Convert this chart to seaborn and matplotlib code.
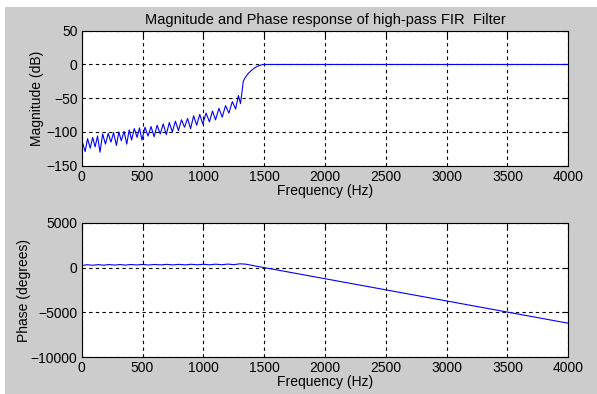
import numpy as np
import pandas as pd
import seaborn as sns
import matplotlib.pyplot as plt
from matplotlib.patches import Rectangle

# magnitude response (Hz, dB)
mag_freq = [0, 28, 48, 70, 90, 110, 130, 150, 172, 195, 218, 240, 262, 285, 305,
            325, 348, 370, 390, 410, 432, 455, 475, 495, 520, 545, 570, 595, 620,
            645, 670, 695, 720, 745, 770, 795, 820, 845, 870, 895, 920, 945, 970,
            995, 1022, 1050, 1075, 1100, 1128, 1155, 1182, 1210, 1238, 1265, 1288,
            1305, 1318, 1328, 1345, 1370, 1400, 1430, 1460, 1490, 1500, 4000]
mag_db = [-112, -129, -110, -124, -108, -122, -106, -130, -103, -118, -102, -115,
          -101, -120, -100, -113, -99, -118, -97, -112, -95, -108, -94, -112, -93,
          -106, -92, -107, -90, -103, -88, -104, -86, -100, -84, -98, -82, -93,
          -80, -95, -76, -90, -74, -88, -72, -85, -69, -82, -65, -78, -61, -72,
          -55, -66, -46, -58, -40, -25, -19, -13, -8, -4, -1.5, 0, 0, 0]

# phase response (Hz, degrees)
ph_freq = [0, 45, 90, 135, 180, 225, 270, 315, 360, 405, 450, 500, 550, 600, 650,
           700, 750, 800, 850, 900, 950, 1000, 1050, 1100, 1150, 1200, 1250, 1300,
           1350, 1400, 1450, 1500, 2000, 2500, 3000, 3500, 4000]
ph_deg = [230, 320, 260, 330, 270, 340, 280, 340, 280, 350, 290, 350, 290, 350,
          300, 360, 300, 360, 300, 370, 310, 370, 310, 380, 320, 390, 330, 420,
          380, 250, 120, 0, -1240, -2480, -3720, -4960, -6200]

mag = pd.DataFrame({"f": mag_freq, "db": mag_db})
ph = pd.DataFrame({"f": ph_freq, "deg": ph_deg})

sns.set_style("white")
plt.rcParams['font.family'] = ['Liberation Sans', 'DejaVu Sans']
plt.rcParams['font.size'] = 10
plt.rcParams['text.color'] = 'black'
plt.rcParams['axes.labelcolor'] = 'black'

fig = plt.figure(figsize=(5.97, 3.94), dpi=100)
fig.patch.set_facecolor("white")
fig.patches.append(Rectangle((5 / 597, 0), 1, 1 - 7 / 394, transform=fig.transFigure,
                             facecolor="#cccccc", edgecolor="none", zorder=-10))

ax1 = fig.add_axes([0.1369, 0.5794, 0.815, 0.3426])
ax2 = fig.add_axes([0.1369, 0.0931, 0.815, 0.3416])

sns.lineplot(data=mag, x="f", y="db", ax=ax1, color="blue", linewidth=0.8,
             estimator=None, sort=False)
sns.lineplot(data=ph, x="f", y="deg", ax=ax2, color="blue", linewidth=0.8,
             estimator=None, sort=False)

ax1.set_ylim(-150, 50)
ax1.set_yticks([-150, -100, -50, 0, 50])
ax2.set_ylim(-10000, 5000)
ax2.set_yticks([-10000, -5000, 0, 5000])

for ax in (ax1, ax2):
    ax.set_facecolor("white")
    ax.set_xlim(0, 4000)
    ax.set_xticks(range(0, 4001, 500))
    ax.grid(True, color="black", linestyle=(0, (3, 3)), linewidth=0.8)
    ax.tick_params(direction="in", length=4, top=True, right=True,
                   labelsize=10, colors="black", pad=3)
    for s in ax.spines.values():
        s.set_color("black")
        s.set_linewidth(0.8)
    ax.set_xlabel("Frequency (Hz)", fontsize=10, labelpad=0, color="black")

ax1.set_ylabel("Magnitude (dB)", fontsize=10, labelpad=2, color="black")
ax2.set_ylabel("Phase (degrees)", fontsize=10, labelpad=0, color="black")
ax1.set_title("Magnitude and Phase response of high-pass FIR  Filter",
              fontsize=10.5, pad=5, color="black")

fig.savefig("out.png", dpi=100, facecolor=fig.get_facecolor())
